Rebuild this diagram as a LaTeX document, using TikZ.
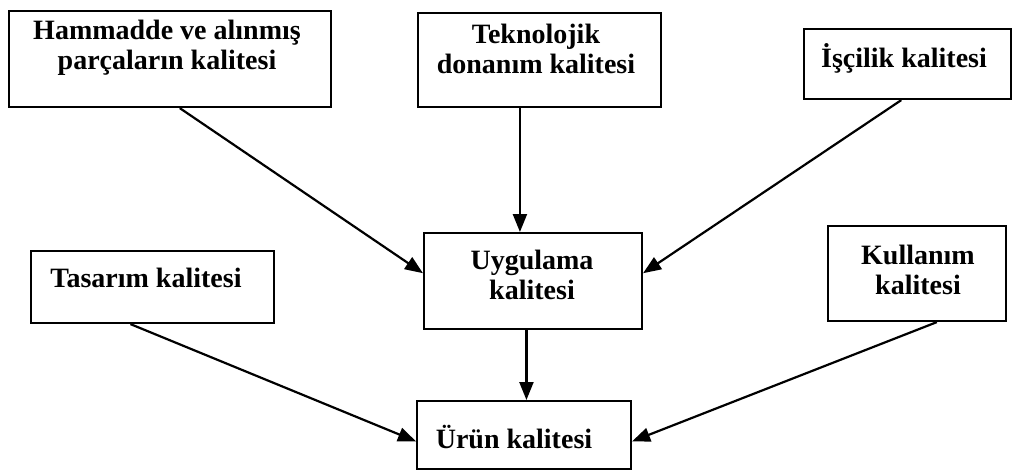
\documentclass[tikz,border=0pt]{standalone}
\usepackage{fontspec}
\setmainfont{Liberation Serif}
\usetikzlibrary{arrows.meta,calc}
\begin{document}
\begin{tikzpicture}[x=1pt,y=-1pt,
  box/.style={draw=black,line width=2.1pt,inner sep=0pt,anchor=north west},
  lbl/.style={font=\fontsize{28}{30}\selectfont\bfseries,align=center,inner sep=0pt},
  flow/.style={line width=2.2pt,-{Triangle[length=18pt,width=14pt]}}]
\useasboundingbox (0,0) rectangle (1013,471);
% boxes (corner, width, height)
\node[box,minimum width=322pt,minimum height=96pt] (ham) at (8,10) {};
\node[box,minimum width=243pt,minimum height=94pt] (tek) at (417,12) {};
\node[box,minimum width=207pt,minimum height=70pt] (isc) at (803,28) {};
\node[box,minimum width=243pt,minimum height=72pt] (tas) at (30,250) {};
\node[box,minimum width=218pt,minimum height=96pt] (uyg) at (423,232) {};
\node[box,minimum width=178pt,minimum height=95pt] (kul) at (827,225) {};
\node[box,minimum width=214pt,minimum height=68pt] (urn) at (416,400) {};
% texts
\node[lbl] (tham) at (167,48) {Hammadde ve alınmış\\parçaların kalitesi};
\node[lbl] (ttek) at (536,49) {Teknolojik\\donanım kalitesi};
\node[lbl] (tisc) at (904,58) {İşçilik kalitesi};
\node[lbl] (ttas) at (146,278) {Tasarım kalitesi};
\node[lbl] (tuyg) at (532,275) {Uygulama\\kalitesi};
\node[lbl] (tkul) at (918,270) {Kullanım\\kalitesi};
\node[lbl] (turn) at (514,437) {Ürün kalitesi};
% connectors
\coordinate (hamout) at ($(ham.south west)!0.53!(ham.south east)$);
\coordinate (iscout) at ($(isc.south west)!0.47!(isc.south east)$);
\coordinate (tasout) at ($(tas.south west)!0.41!(tas.south east)$);
\coordinate (kulout) at ($(kul.south west)!0.61!(kul.south east)$);
\coordinate (tekout) at ($(tek.south west)!0.42!(tek.south east)$);
\coordinate (uygout) at ($(uyg.south west)!0.47!(uyg.south east)$);
\coordinate (uygl) at ($(uyg.north west)!0.42!(uyg.south west)$);
\coordinate (uygr) at ($(uyg.north east)!0.42!(uyg.south east)$);
\coordinate (urnl) at ($(urn.north west)!0.59!(urn.south west)$);
\coordinate (urnr) at ($(urn.north east)!0.59!(urn.south east)$);
\draw[flow] (hamout) -- (uygl);
\draw[flow] (tekout) -- (tekout |- uyg.north);
\draw[flow] (iscout) -- (uygr);
\draw[flow] (tasout) -- (urnl);
\draw[flow] (uygout) -- (uygout |- urn.north);
\draw[flow] (kulout) -- (urnr);
\end{tikzpicture}
\end{document}
